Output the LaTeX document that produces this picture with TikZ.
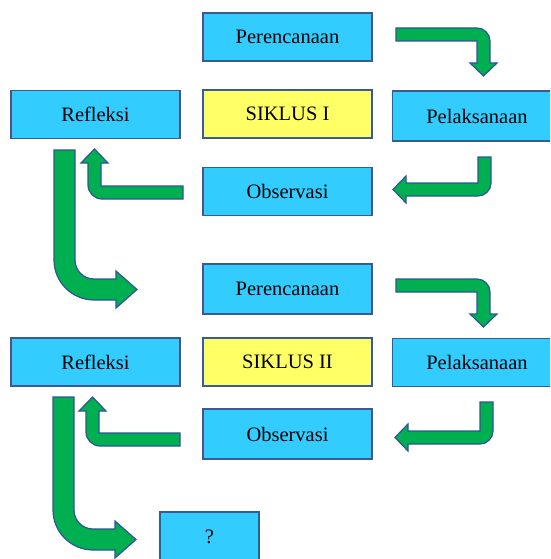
\documentclass[tikz,border=0pt]{standalone}
\usepackage{fontspec}
\setmainfont{Liberation Serif}
\definecolor{boxblue}{HTML}{33CCFF}
\definecolor{boxyellow}{HTML}{FFFF66}
\definecolor{edgeblue}{HTML}{3A5A94}
\definecolor{arrowgreen}{HTML}{00B050}
\definecolor{arrowedge}{HTML}{2F5597}
\tikzset{
  stagebox/.style={draw=edgeblue, line width=1.8pt, fill=boxblue, minimum width=169pt, minimum height=48pt, inner sep=0pt, font=\fontsize{20.5}{24}\selectfont},
  cyclebox/.style={stagebox, fill=boxyellow},
  bentarrow/.style={fill=arrowgreen, draw=arrowedge, line width=1.2pt, line join=miter},
}
\begin{document}
\begin{tikzpicture}[x=1pt,y=-1pt]
\useasboundingbox (0,0) rectangle (550,559);
\clip (0,0) rectangle (550,559);
% boxes, cycle I
\node[stagebox] (per1) at (287.5,37) {Perencanaan};
\node[cyclebox] (sik1) at (287.5,114) {SIKLUS I};
\node[stagebox] (obs1) at (287.5,191.5) {Observasi};
\node[stagebox] (ref1) at (95.5,114.5) {Refleksi};
\node[stagebox, minimum height=50pt] (pel1) at (477,116) {Pelaksanaan};
% boxes, cycle II
\node[stagebox, minimum height=50pt] (per2) at (287.5,289) {Perencanaan};
\node[cyclebox] (sik2) at (287.5,362) {SIKLUS II};
\node[stagebox, minimum height=50pt] (obs2) at (287.5,434) {Observasi};
\node[stagebox] (ref2) at (95.5,362) {Refleksi};
\node[stagebox] (pel2) at (477,362.5) {Pelaksanaan};
\node[stagebox, minimum width=99pt, minimum height=49pt] (next) at (209.5,536.5) {?};
% arrows, cycle I
\draw[bentarrow] (396,28) -- (477,28) .. controls (484.2,28) and (490,33.8) .. (490,41) -- (490,63) -- (497,63) -- (483.5,76) -- (470,63) -- (477,63) -- (477,41) -- (396,41) -- cycle;
\draw[bentarrow] (478,157) -- (491,157) -- (491,183) .. controls (491,190.2) and (485.2,196) .. (478,196) -- (406,196) -- (406,203) -- (393,189.5) -- (406,176) -- (406,183) -- (478,183) -- cycle;
\draw[bentarrow] (183,186) -- (101,186) -- (101,163) -- (108,163) -- (94.5,149) -- (81,163) -- (88,163) -- (88,185) .. controls (88,192.7) and (94.3,199) .. (102,199) -- (183,199) -- cycle;
\draw[bentarrow] (54,150) -- (75,150) -- (75,260) .. controls (75,270.5) and (83.5,279) .. (94,279) -- (116,279) -- (116,271) -- (137,289.5) -- (116,308) -- (116,300) -- (94,300) .. controls (72,300) and (54,282) .. (54,260) -- cycle;
% arrows, cycle II
\draw[bentarrow] (396,279) -- (477,279) .. controls (484.2,279) and (490,284.8) .. (490,292) -- (490,314) -- (497,314) -- (483.5,327) -- (470,314) -- (477,314) -- (477,292) -- (396,292) -- cycle;
\draw[bentarrow] (480,402) -- (493,402) -- (493,431) .. controls (493,438.2) and (487.2,444) .. (480,444) -- (408,444) -- (408,451) -- (395,437.5) -- (408,424) -- (408,431) -- (480,431) -- cycle;
\draw[bentarrow] (180,433) -- (99,433) -- (99,411) -- (106,411) -- (92.5,397) -- (79,411) -- (86,411) -- (86,432) .. controls (86,439.7) and (92.3,446) .. (100,446) -- (180,446) -- cycle;
\draw[bentarrow] (53,397) -- (74,397) -- (74,510) .. controls (74,520.5) and (82.5,529) .. (93,529) -- (115,529) -- (115,521) -- (136,539.5) -- (115,558) -- (115,550) -- (93,550) .. controls (71,550) and (53,532) .. (53,510) -- cycle;
\end{tikzpicture}
\end{document}
